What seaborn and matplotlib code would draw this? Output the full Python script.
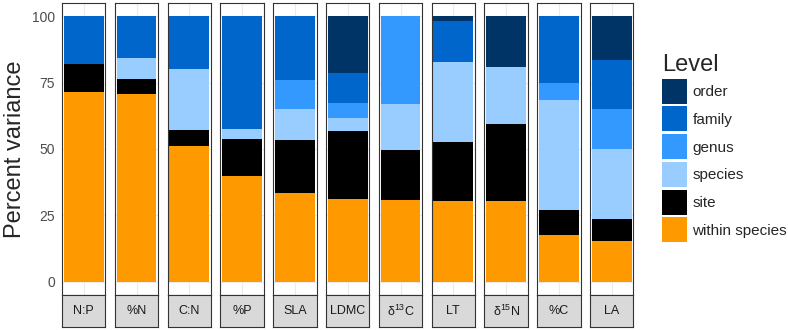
import pandas as pd
import matplotlib
matplotlib.use("Agg")
import matplotlib.pyplot as plt
from matplotlib.patches import Patch
import seaborn as sns

# Rasgos (facetas) y porcentaje de varianza por nivel
traits = ["N:P", "%N", "C:N", "%P", "SLA", "LDMC", "δ$^{\\mathregular{13}}$C", "LT",
          "δ$^{\\mathregular{15}}$N", "%C", "LA"]
within_species = [71.5, 70.7, 51.1, 39.9, 33.6, 31.2, 30.6, 30.3, 30.3, 17.5, 15.2]
site = [10.6, 5.5, 6.0, 13.7, 19.9, 25.4, 18.9, 22.4, 29.1, 9.6, 8.6]
species = [0.0, 7.9, 23.2, 4.0, 11.4, 5.1, 17.4, 29.9, 21.6, 41.5, 26.2]
genus = [0.0, 0.0, 0.0, 0.0, 11.2, 5.6, 33.1, 0.0, 0.0, 6.2, 15.2]
family = [17.9, 15.9, 19.7, 42.4, 23.9, 11.2, 0.0, 15.7, 0.0, 25.2, 18.4]
order = [0.0, 0.0, 0.0, 0.0, 0.0, 21.5, 0.0, 1.7, 19.0, 0.0, 16.4]

levels = ["within species", "site", "species", "genus", "family", "order"]
colores = {"within species": "#FF9900", "site": "#000000", "species": "#99CCFF",
           "genus": "#3399FF", "family": "#0066CC", "order": "#003366"}

df = pd.DataFrame({"trait": traits, "within species": within_species, "site": site,
                   "species": species, "genus": genus, "family": family, "order": order})

sns.set_style("white")
plt.rcParams["font.family"] = ["Liberation Sans", "DejaVu Sans"]

W, H = 788, 330
fig = plt.figure(figsize=(W / 100, H / 100), dpi=100)

x0, paso, ancho = 62, 52.8, 43.4
top, bottom, strip_bottom = 3, 295, 327

for i, row in df.iterrows():
    left = (x0 + i * paso) / W
    ax = fig.add_axes([left, 1 - bottom / H, ancho / W, (bottom - top) / H])
    # barras apiladas: se dibujan las sumas acumuladas de arriba hacia abajo
    acumulado = 0
    alturas = []
    for lev in levels:
        acumulado += row[lev]
        alturas.append((lev, acumulado, row[lev]))
    for lev, h, v in reversed(alturas):
        if v <= 0:
            continue
        sns.barplot(x=[0], y=[h], color=colores[lev], width=0.92, saturation=1,
                    linewidth=0, errorbar=None, ax=ax)
    ax.set_xlim(-0.5, 0.5)
    ax.set_ylim(-5, 105)
    ax.set_axisbelow(True)
    ax.grid(True, color="#EBEBEB", linewidth=0.8)
    ax.set_yticks([0, 25, 50, 75, 100])
    ax.set_xticks([0])
    ax.tick_params(axis="x", length=0, labelbottom=False)
    ax.set_xlabel("")
    ax.set_ylabel("")
    for s in ax.spines.values():
        s.set_color("#333333")
        s.set_linewidth(0.8)
    if i == 0:
        ax.tick_params(axis="y", length=3, color="#333333", labelsize=10, labelcolor="#4D4D4D", pad=2)
        ax.set_ylabel("Percent variance", fontsize=17, labelpad=4)
    else:
        ax.tick_params(axis="y", length=0, labelleft=False)

    # tira con el nombre del rasgo debajo del panel
    sax = fig.add_axes([left, 1 - strip_bottom / H, ancho / W, (strip_bottom - bottom) / H])
    sax.set_facecolor("#D9D9D9")
    sax.set_xticks([])
    sax.set_yticks([])
    for s in sax.spines.values():
        s.set_color("#333333")
        s.set_linewidth(0.8)
    sax.text(0.5, 0.5, row["trait"], ha="center", va="center", fontsize=9, color="#1A1A1A",
             transform=sax.transAxes)

handles = [Patch(facecolor=colores[l], edgecolor="none", label=l) for l in reversed(levels)]
fig.legend(handles=handles, title="Level", loc="upper left", bbox_to_anchor=(662 / W, 1 - 54 / H),
           frameon=False, fontsize=11, title_fontsize=17, handlelength=1.64, handleheight=2.14,
           handletextpad=0.35, labelspacing=0.18, borderpad=0, borderaxespad=0, alignment="left")

fig.savefig("out.png", dpi=100)
